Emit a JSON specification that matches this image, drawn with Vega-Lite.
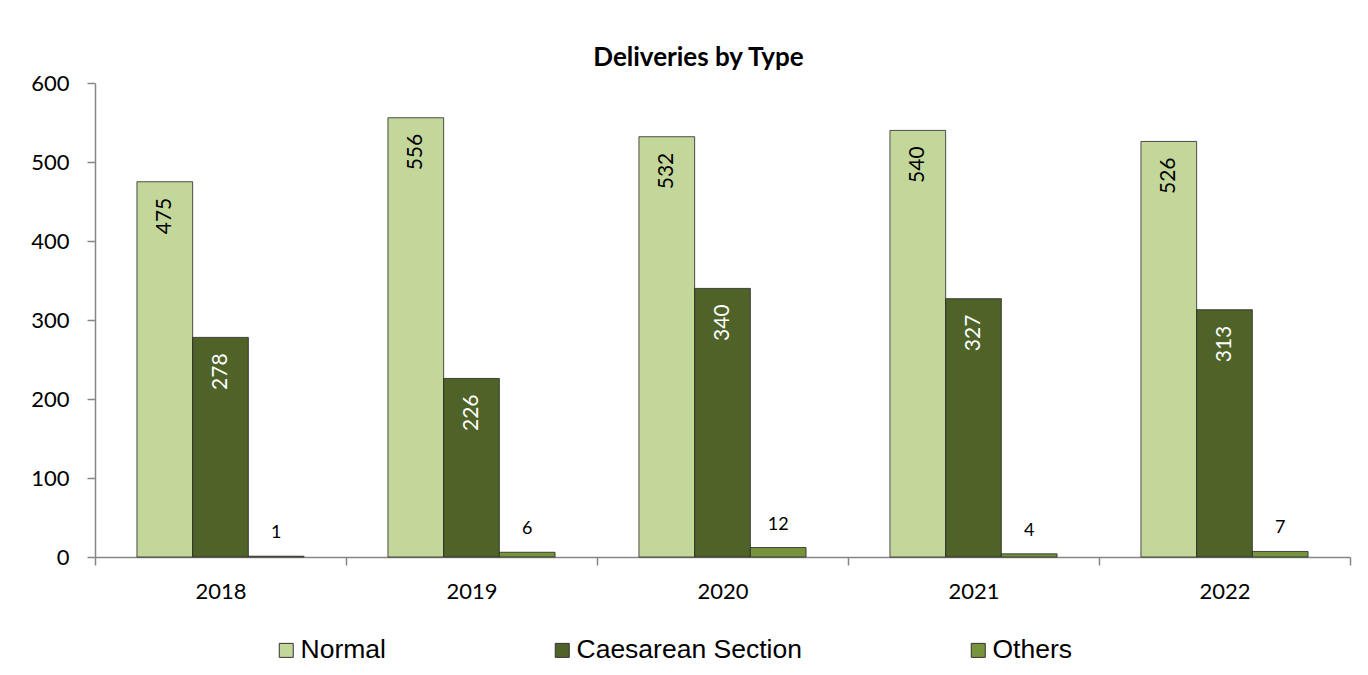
{
  "$schema": "https://vega.github.io/schema/vega-lite/v6.json",
  "width": 1255,
  "height": 474,
  "autosize": {"type": "none"},
  "padding": {"left": 95, "top": 83, "right": 18, "bottom": 118},
  "background": "white",
  "title": {
    "text": "Deliveries by Type",
    "font": "Lato",
    "fontSize": 26,
    "fontWeight": "bold",
    "color": "black",
    "anchor": "middle",
    "frame": "group",
    "dx": -24,
    "dy": 34,
    "offset": 14,
    "baseline": "alphabetic"
  },
  "data": {
    "values": [
      {"year": "2018", "type": "Normal", "value": 475},
      {"year": "2018", "type": "Caesarean Section", "value": 278},
      {"year": "2018", "type": "Others", "value": 1},
      {"year": "2019", "type": "Normal", "value": 556},
      {"year": "2019", "type": "Caesarean Section", "value": 226},
      {"year": "2019", "type": "Others", "value": 6},
      {"year": "2020", "type": "Normal", "value": 532},
      {"year": "2020", "type": "Caesarean Section", "value": 340},
      {"year": "2020", "type": "Others", "value": 12},
      {"year": "2021", "type": "Normal", "value": 540},
      {"year": "2021", "type": "Caesarean Section", "value": 327},
      {"year": "2021", "type": "Others", "value": 4},
      {"year": "2022", "type": "Normal", "value": 526},
      {"year": "2022", "type": "Caesarean Section", "value": 313},
      {"year": "2022", "type": "Others", "value": 7}
    ]
  },
  "encoding": {
    "x": {
      "field": "year",
      "type": "nominal",
      "scale": {"paddingInner": 0, "paddingOuter": 0},
      "axis": {
        "title": null,
        "tickBand": "extent",
        "labelAngle": 0,
        "labelFont": "Lato",
        "labelFontSize": 22,
        "labelColor": "black",
        "domainColor": "#868686",
        "domainWidth": 1.5,
        "tickColor": "#868686",
        "tickWidth": 1.5,
        "tickSize": 8,
        "labelPadding": 16
      }
    },
    "xOffset": {
      "field": "type",
      "type": "nominal",
      "sort": ["Normal", "Caesarean Section", "Others"],
      "scale": {
        "domain": ["Normal", "Caesarean Section", "Others"],
        "paddingInner": 0,
        "paddingOuter": 0.753
      }
    },
    "y": {
      "field": "value",
      "type": "quantitative",
      "scale": {"domain": [0, 600]},
      "axis": {
        "title": null,
        "values": [0, 100, 200, 300, 400, 500, 600],
        "grid": false,
        "labelFont": "Lato",
        "labelFontSize": 22,
        "labelColor": "black",
        "domainColor": "#868686",
        "domainWidth": 1.5,
        "tickColor": "#868686",
        "tickWidth": 1.5,
        "tickSize": 8,
        "labelPadding": 18
      }
    }
  },
  "layer": [
    {
      "mark": {"type": "bar", "stroke": "#262626", "strokeWidth": 0.8},
      "encoding": {
        "color": {
          "field": "type",
          "type": "nominal",
          "sort": ["Normal", "Caesarean Section", "Others"],
          "scale": {
            "domain": ["Normal", "Caesarean Section", "Others"],
            "range": ["#C4D79B", "#4F6228", "#77933C"]
          },
          "legend": {
            "orient": "none",
            "legendX": 178,
            "legendY": 554,
            "direction": "horizontal",
            "title": null,
            "symbolType": "square",
            "symbolSize": 196,
            "symbolStrokeColor": "#333333",
            "symbolStrokeWidth": 1,
            "symbolOpacity": 1,
            "labelFont": "Liberation Sans",
            "labelFontSize": 26.5,
            "labelColor": "black",
            "labelOffset": 1,
            "labelLimit": 400,
            "columnPadding": 163,
            "padding": 0
          }
        }
      }
    },
    {
      "transform": [{"filter": "datum.type === 'Normal'"}],
      "mark": {
        "type": "text",
        "angle": 270,
        "align": "right",
        "baseline": "middle",
        "dx": -16,
        "font": "Lato",
        "fontSize": 21,
        "color": "black"
      },
      "encoding": {"text": {"field": "value", "type": "quantitative"}}
    },
    {
      "transform": [{"filter": "datum.type === 'Caesarean Section'"}],
      "mark": {
        "type": "text",
        "angle": 270,
        "align": "right",
        "baseline": "middle",
        "dx": -16,
        "font": "Lato",
        "fontSize": 21,
        "color": "white"
      },
      "encoding": {"text": {"field": "value", "type": "quantitative"}}
    },
    {
      "transform": [{"filter": "datum.type === 'Others'"}],
      "mark": {
        "type": "text",
        "align": "center",
        "baseline": "alphabetic",
        "dy": -18,
        "font": "Lato",
        "fontSize": 18,
        "color": "black"
      },
      "encoding": {"text": {"field": "value", "type": "quantitative"}}
    }
  ],
  "config": {"view": {"stroke": null}}
}
